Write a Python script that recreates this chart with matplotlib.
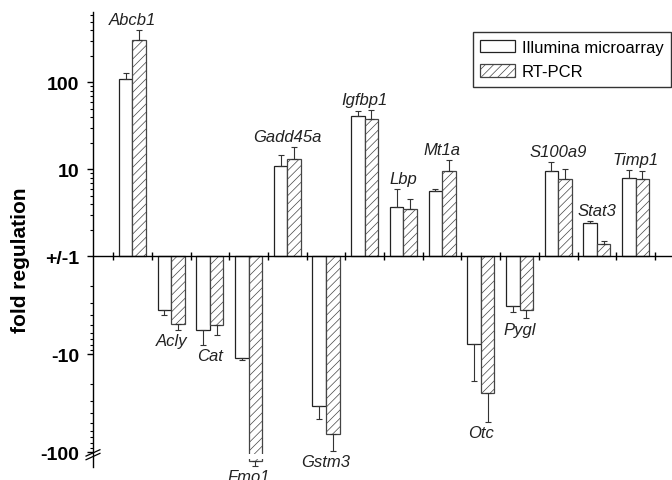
"""Fold regulation of selected genes: Illumina microarray vs RT-PCR.

Up- and down-regulation share one axis: positive folds go up from +/-1 on a
log scale, negative folds go down on a (slightly stretched) log scale.
"""

import matplotlib
matplotlib.use("Agg")
import matplotlib.pyplot as plt
import numpy as np

OUT = "out.png"

GENES = ["Abcb1", "Acly", "Cat", "Fmo1", "Gadd45a", "Gstm3", "Igfbp1",
         "Lbp", "Mt1a", "Otc", "Pygl", "S100a9", "Stat3", "Timp1"]

# fold regulation (negative = down-regulated) and one-sided error
ILLUMINA = [110, -3.5, -5.65, -10.8, 10.9, -34, 41.3,
            3.7, 5.7, -7.9, -3.2, 9.6, 2.4, 8.0]
ILLUMINA_ERR = [19, 0.5, 2.35, 0.7, 3.7, 11.7, 5.1,
                2.2, 0.3, 10.7, 0.5, 2.5, 0.17, 1.9]
RTPCR = [310, -4.9, -5.0, -123, 13.1, -65, 37.6,
         3.5, 9.5, -25, -3.5, 7.8, 1.4, 7.7]
RTPCR_ERR = [90, 0.7, 1.4, 14, 4.8, 31, 10.4,
             1.1, 3.3, 23.7, 0.8, 2.3, 0.09, 1.8]

Y_MAJOR = [100, 10, 1, -10, -100]
Y_MAJOR_LABELS = ["100", "10", "+/-1", "-10", "-100"]

NEG_STRETCH = 98 / 87     # one decade down is drawn a bit taller than one up
BAR_W = 0.35


def fwd(v):
    v = np.asarray(v, dtype=float)
    mag = np.log10(np.maximum(np.abs(v), 1.0))
    return np.where(v >= 0, mag, -NEG_STRETCH * mag)


def inv(y):
    y = np.asarray(y, dtype=float)
    with np.errstate(over="ignore"):
        return np.where(y >= 0, 10.0 ** y, -(10.0 ** (-y / NEG_STRETCH)))


def draw_series(ax, x, vals, errs, **kw):
    vals = np.asarray(vals, float)
    errs = np.asarray(errs, float)
    base = np.sign(vals)
    ax.bar(x, vals - base, bottom=base, width=BAR_W, linewidth=0.9, **kw)
    lo = np.where(vals < 0, errs, 0)
    hi = np.where(vals > 0, errs, 0)
    ax.errorbar(x, vals, yerr=[lo, hi], fmt="none", ecolor="#333333",
                elinewidth=0.8, capsize=2.2, capthick=0.8)


def main() -> None:
    plt.rcParams["font.family"] = ["Liberation Sans", "DejaVu Sans"]
    plt.rcParams["hatch.linewidth"] = 0.5

    fig = plt.figure(figsize=(6.72, 4.81), dpi=100)
    ax = fig.add_axes([93 / 672, 13 / 481, 1 - 93 / 672, 1 - 26.3 / 481])
    ax.set_yscale("function", functions=(fwd, inv))

    x = np.arange(len(GENES))
    draw_series(ax, x - BAR_W / 2, ILLUMINA, ILLUMINA_ERR,
                color="white", edgecolor="#222222", label="Illumina microarray")
    draw_series(ax, x + BAR_W / 2, RTPCR, RTPCR_ERR,
                color="white", edgecolor="#444444", hatch="////", label="RT-PCR")

    # gap in the Fmo1 RT-PCR bar where the axis is broken
    i = GENES.index("Fmo1")
    ax.bar(i + BAR_W / 2, -117 + 104, bottom=-104, width=BAR_W * 1.3,
           color="white", edgecolor="none", zorder=3)

    ax.set_xlim(-1.02, 13.94)
    ax.set_ylim(-141, 638)

    # gene labels above / below the longest error bar of each pair
    for k, g in enumerate(GENES):
        ends = [ILLUMINA[k] + np.sign(ILLUMINA[k]) * ILLUMINA_ERR[k],
                RTPCR[k] + np.sign(RTPCR[k]) * RTPCR_ERR[k]]
        up = ILLUMINA[k] > 0
        y = max(ends) if up else min(ends)
        ax.annotate(g, (k, y), xytext=(0, 7.5 if up else -8),
                    textcoords="offset points", ha="center", va="center",
                    style="italic", fontsize=12, color="#222222",
                    annotation_clip=False)

    # axes: x axis runs along +/-1, only the left spine is shown
    for s in ("top", "right"):
        ax.spines[s].set_visible(False)
    ax.spines["bottom"].set_position(("data", 1))
    ax.spines["left"].set_linewidth(1.0)
    ax.spines["bottom"].set_linewidth(1.0)
    ax.set_xticks(np.arange(len(GENES) + 1) - 0.5)
    ax.set_xticklabels([])
    ax.tick_params(axis="x", direction="inout", length=6, width=1.0)

    minor = ([m * d for d in (1, 10) for m in range(2, 10)] + [200, 300, 400, 500, 600]
             + [-m * d for d in (1, 10) for m in range(2, 10)])
    ax.set_yticks(Y_MAJOR)
    ax.set_yticklabels(Y_MAJOR_LABELS, fontsize=14, fontweight="bold")
    ax.set_yticks(minor, minor=True)
    ax.tick_params(axis="y", which="major", direction="out", length=4, width=1.0, pad=6)
    ax.tick_params(axis="y", which="minor", direction="out", length=2.5, width=0.8)

    # axis break marks at -100
    for dy in (-0.004, 0.004):
        ax.plot([-0.012, 0.012], [0.02 + dy, 0.034 + dy], transform=ax.transAxes,
                color="black", lw=0.9, clip_on=False)

    fig.text(21 / 672, 1 - 260 / 481, "fold regulation", rotation=90,
             ha="center", va="center", fontsize=15, fontweight="bold")

    leg = ax.legend(loc="upper right", bbox_to_anchor=(671 / 672, 1 - 33 / 481),
                    bbox_transform=fig.transFigure, borderaxespad=0, fontsize=12,
                    frameon=True, fancybox=False, edgecolor="black",
                    handlelength=2.1, handleheight=0.8, handletextpad=0.4,
                    labelspacing=0.55, borderpad=0.45)
    leg.get_frame().set_linewidth(1.0)

    fig.savefig(OUT, dpi=100)


if __name__ == "__main__":
    main()
